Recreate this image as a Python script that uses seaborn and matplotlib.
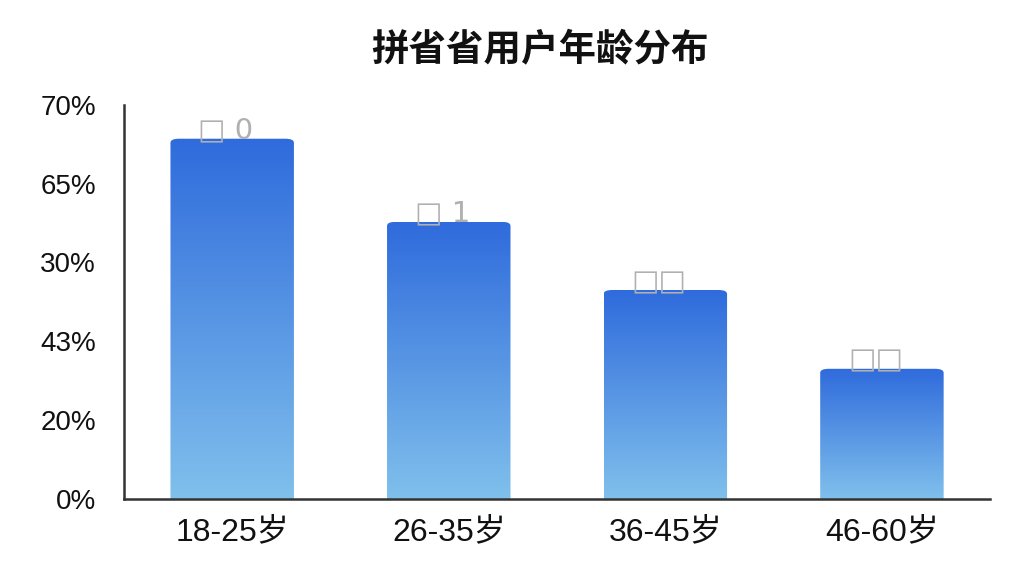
import matplotlib.pyplot as plt
import seaborn as sns
import pandas as pd
import numpy as np
from matplotlib.patches import FancyBboxPatch
from matplotlib.colors import LinearSegmentedColormap

# data
age_groups = ['18-25岁', '26-35岁', '36-45岁', '46-60岁']
share = [91.4, 70.3, 53.0, 33.0]
bar_labels = ['□ 0', '□ 1', '□□', '□□']
y_ticks = [0, 20, 40, 60, 80, 100]
y_tick_labels = ['0%', '20%', '43%', '30%', '65%', '70%']

sns.set_style('white')
plt.rcParams['font.family'] = ['Liberation Sans', 'Noto Sans CJK SC', 'DejaVu Sans']

df = pd.DataFrame({'age': age_groups, 'share': share})

fig = plt.figure(figsize=(10.24, 5.76), dpi=100)
ax = fig.add_axes([0.121, 0.134, 0.846, 0.684])

sns.barplot(data=df, x='age', y='share', ax=ax, width=0.57, color='#3a7be0')

# replace the plain bars with gradient, round-topped ones
cmap = LinearSegmentedColormap.from_list('blues', ['#2f6bdc', '#80c0ec'])
grad = np.linspace(0, 1, 256).reshape(-1, 1)
for bar in list(ax.patches):
    x0, w, h = bar.get_x(), bar.get_width(), bar.get_height()
    bar.set_visible(False)
    clip = FancyBboxPatch((x0, -10), w, h + 10,
                          boxstyle='round,pad=0,rounding_size=0.04',
                          mutation_aspect=25, transform=ax.transData,
                          facecolor='none', edgecolor='none')
    ax.add_patch(clip)
    im = ax.imshow(grad, cmap=cmap, aspect='auto', extent=(x0, x0 + w, 0, h),
                   origin='upper', zorder=2)
    im.set_clip_path(clip)

for i, (v, lab) in enumerate(zip(share, bar_labels)):
    ax.text(i - 0.03, v - 1.5, lab, ha='center', va='bottom', fontsize=21,
            color='#b0b0b0', family='DejaVu Sans', zorder=3)

ax.set_xlim(-0.5, 3.5)
ax.set_ylim(0, 100)
ax.set_yticks(y_ticks)
ax.set_yticklabels(y_tick_labels)
ax.set_xlabel('')
ax.set_ylabel('')
ax.tick_params(axis='both', length=0, colors='#111111')
ax.tick_params(axis='y', pad=20, labelsize=20)
ax.tick_params(axis='x', pad=13, labelsize=23)

sns.despine(ax=ax, top=True, right=True)
for s in ['left', 'bottom']:
    ax.spines[s].set_color('#333333')
    ax.spines[s].set_linewidth(1.8)

fig.text(0.527, 0.915, '拼省省用户年龄分布', ha='center', va='center',
         fontsize=27, fontweight='bold', color='#111111',
         family=['Noto Sans CJK SC', 'DejaVu Sans'])

fig.savefig('out.png', dpi=100)
